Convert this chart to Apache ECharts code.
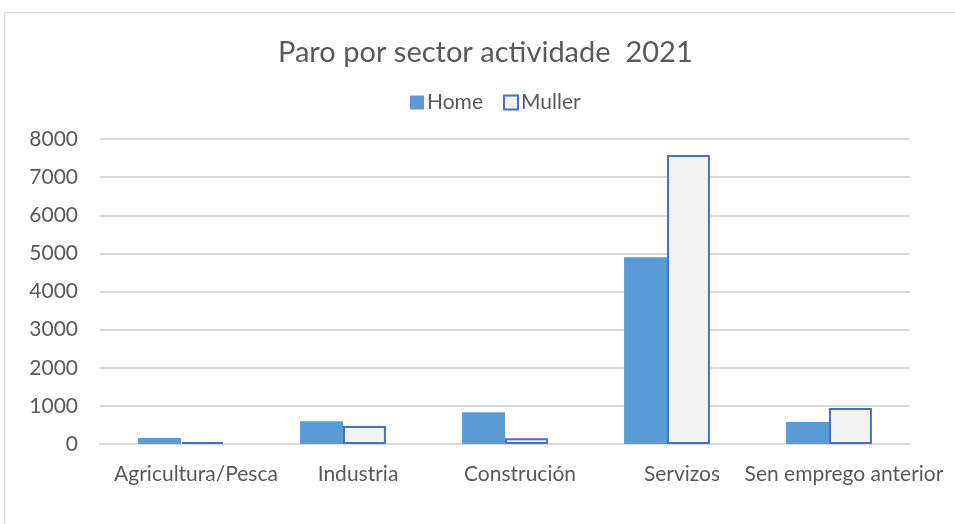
<!DOCTYPE html>
<html>
<head>
<meta charset="utf-8">
<script src="https://cdn.jsdelivr.net/npm/echarts@6/dist/echarts.min.js"></script>
<style>
  html, body { margin: 0; padding: 0; background: #fff; }
  #chart { width: 955px; height: 524px; }
</style>
</head>
<body>
<div id="chart"></div>
<script>
var categories = ['Agricultura/Pesca', 'Industria', 'Construción', 'Servizos', 'Sen emprego anterior'];
var homeValues = [160, 595, 830, 4900, 578];
var mullerValues = [50, 475, 150, 7580, 945];
var yMax = 8000;
var yStep = 1000;

var font = 'Lato, "Open Sans", sans-serif';
var chart = echarts.init(document.getElementById('chart'));
chart.setOption({
  backgroundColor: '#fff',
  textStyle: { fontFamily: font },
  graphic: [{
    type: 'rect',
    shape: { x: 4.5, y: 12.5, width: 960, height: 530 },
    style: { fill: 'none', stroke: '#d9d9d9', lineWidth: 1 },
    silent: true
  }],
  title: {
    text: 'Paro por sector actividade  2021',
    left: 273,
    top: 33,
    textStyle: { fontFamily: font, fontSize: 29, fontWeight: 'normal', color: '#595959' }
  },
  legend: {
    top: 87,
    left: 405,
    icon: 'rect',
    itemWidth: 14,
    itemHeight: 14,
    itemGap: 20,
    textStyle: { fontFamily: font, fontSize: 21, color: '#595959', padding: [0, 0, 0, -2] },
    data: ['Home', 'Muller']
  },
  grid: { left: 100, right: 45, top: 139, bottom: 80 },
  xAxis: {
    type: 'category',
    data: categories,
    axisLine: { lineStyle: { color: '#d9d9d9', width: 2 } },
    axisTick: { show: false },
    axisLabel: {
      interval: 0,
      fontFamily: font, fontSize: 21, color: '#595959', margin: 20,
      padding: [0, 0, 0, 30]
    }
  },
  yAxis: {
    type: 'value',
    min: 0,
    max: yMax,
    interval: yStep,
    axisLine: { show: false },
    axisTick: { show: false },
    splitLine: { lineStyle: { color: '#d9d9d9', width: 2 } },
    axisLabel: {
      fontFamily: font, fontSize: 21, color: '#595959', margin: 22,
      formatter: function (v) { return String(v); }
    }
  },
  series: [
    {
      name: 'Home',
      type: 'bar',
      data: homeValues,
      barGap: '0%',
      barCategoryGap: '47%',
      itemStyle: { color: '#5b9bd5' }
    },
    {
      name: 'Muller',
      type: 'bar',
      data: mullerValues,
      itemStyle: { color: '#f2f2f2', borderColor: '#4472c4', borderWidth: 2 }
    }
  ]
});
</script>
</body>
</html>
